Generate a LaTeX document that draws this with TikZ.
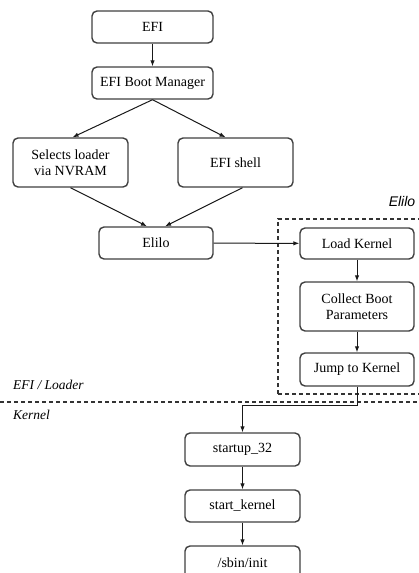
\documentclass[tikz,border=0pt]{standalone}
\usepackage{fontspec}
\setmainfont{Liberation Serif}
\newfontfamily\labelsans{Liberation Sans}
\usetikzlibrary{arrows.meta}
\tikzset{
  box/.style={draw=black!75, line width=1.4pt, rounded corners=5pt, fill=white,
    align=center, inner sep=0pt, font=\fontsize{14}{16.5}\selectfont},
  flow/.style={draw=black!90, line width=1pt, -{Latex[length=6pt,width=4.5pt]}},
  region/.style={draw=black!80, line width=1.1pt, dash pattern=on 4pt off 3pt},
  tag/.style={font=\fontsize{13.5}{16}\selectfont\itshape, anchor=west, inner sep=0pt}
}
\begin{document}
\begin{tikzpicture}[x=1pt,y=-1pt]
\useasboundingbox (0,0) rectangle (419,573);
\clip (0,0) rectangle (419,573);

% loader region and the EFI/Kernel boundary
\draw[region] (278,394) -- (278,219) -- (430,219);
\draw[region] (278,394) -- (430,394);
\draw[region] (0,402) -- (430,402);
\node[font=\fontsize{14}{16}\selectfont\labelsans\itshape, inner sep=0pt] (elilotag) at (402,201) {Elilo};
\node[tag] (loadertag) at (13,385) {EFI / Loader};
\node[tag] (kerneltag) at (13,415) {Kernel};

% boxes
\node[box, minimum width=121, minimum height=32] (efi) at (152.5,27) {EFI};
\node[box, minimum width=121, minimum height=32] (ebm) at (152.5,83) {EFI Boot Manager};
\node[box, minimum width=115, minimum height=49] (sel) at (70.5,162.5) {Selects loader\\via NVRAM};
\node[box, minimum width=115, minimum height=49] (shell) at (235.5,162.5) {EFI shell};
\node[box, minimum width=114, minimum height=32] (elilo) at (156,243) {Elilo};
\node[box, minimum width=114, minimum height=31] (load) at (357,243.5) {Load Kernel};
\node[box, minimum width=114, minimum height=49] (collect) at (357,306.5) {Collect Boot\\Parameters};
\node[box, minimum width=114, minimum height=33] (jump) at (357,369.5) {Jump to Kernel};
\node[box, minimum width=115, minimum height=33] (startup) at (242.5,449.5) {startup\_32};
\node[box, minimum width=115, minimum height=32] (skernel) at (242.5,506) {start\_kernel};
\node[box, minimum width=115, minimum height=34] (init) at (242.5,563) {/sbin/init};

% connectors
\coordinate (turn) at (357,405);
\draw[flow] (efi) -- (ebm);
\draw[flow] (ebm.south) -- ([xshift=2pt]sel.north);
\draw[flow] (ebm.south) -- ([xshift=-10pt]shell.north);
\draw[flow] (sel.south) -- ([xshift=-9pt]elilo.north);
\draw[flow] ([xshift=7pt]shell.south) -- ([xshift=9pt]elilo.north);
\draw[flow] (elilo) -- (load);
\draw[flow] (load) -- (collect);
\draw[flow] (collect) -- (jump);
\draw[flow] (jump.south) -- (turn) -| (startup.north);
\draw[flow] (startup) -- (skernel);
\draw[flow] (skernel) -- (init);
\end{tikzpicture}
\end{document}
